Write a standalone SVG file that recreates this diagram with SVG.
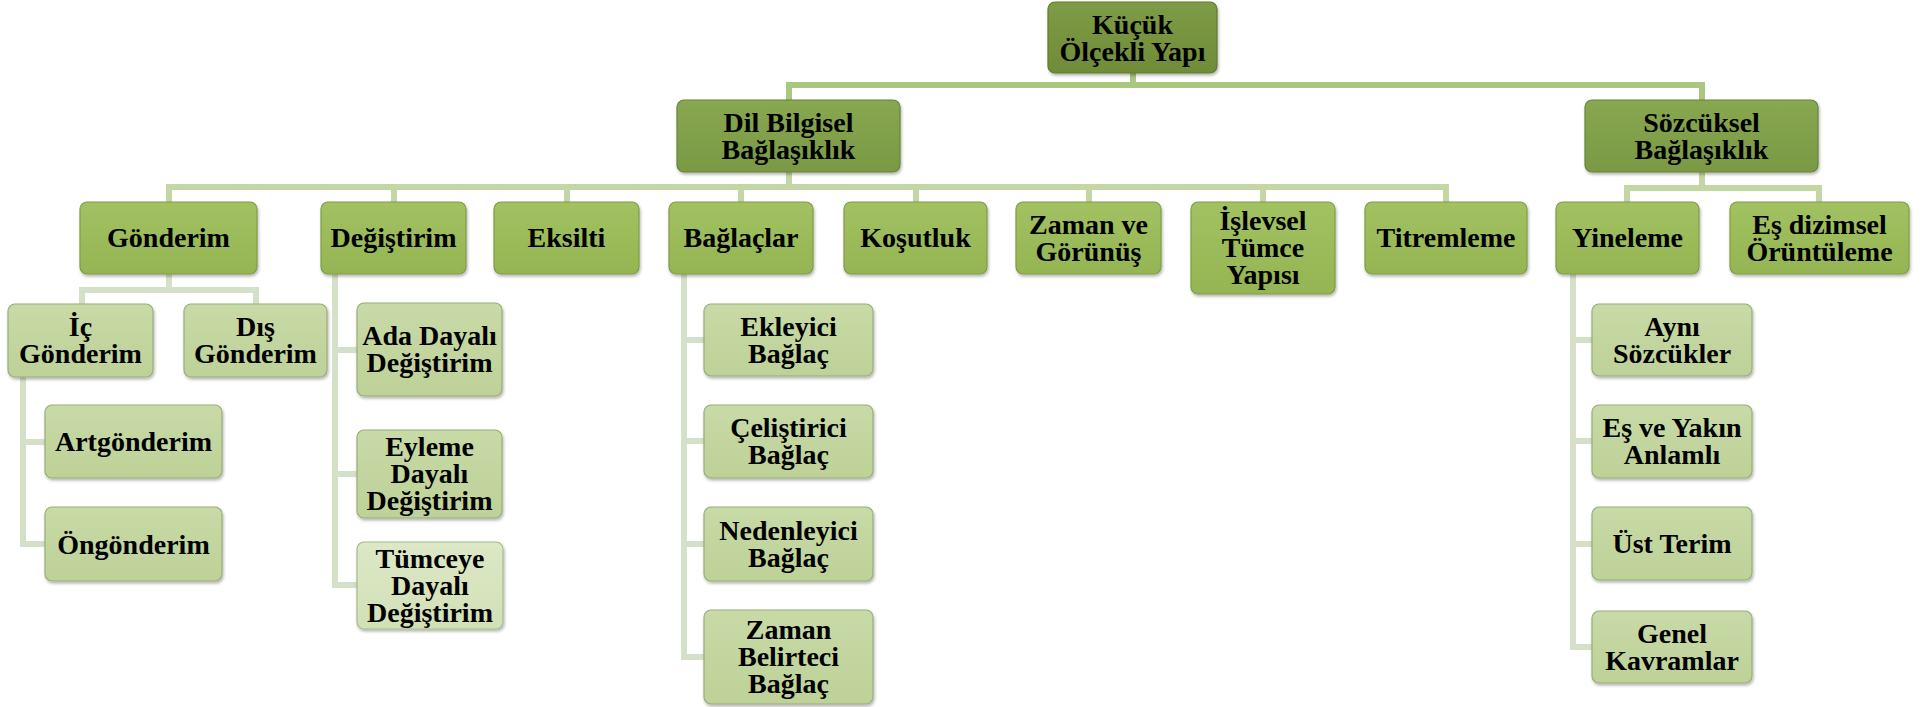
<svg xmlns="http://www.w3.org/2000/svg" width="1923" height="707" viewBox="0 0 1923 707">
<defs>
<linearGradient id="g0" x1="0" y1="0" x2="0" y2="1"><stop offset="0" stop-color="#7E9B46"/><stop offset="1" stop-color="#708C38"/></linearGradient>
<linearGradient id="g1" x1="0" y1="0" x2="0" y2="1"><stop offset="0" stop-color="#88A751"/><stop offset="1" stop-color="#7A9943"/></linearGradient>
<linearGradient id="g2" x1="0" y1="0" x2="0" y2="1"><stop offset="0" stop-color="#A2C162"/><stop offset="1" stop-color="#95B553"/></linearGradient>
<linearGradient id="g3" x1="0" y1="0" x2="0" y2="1"><stop offset="0" stop-color="#C8DAA6"/><stop offset="1" stop-color="#BDD198"/></linearGradient>
<linearGradient id="g4" x1="0" y1="0" x2="0" y2="1"><stop offset="0" stop-color="#DCE8C6"/><stop offset="1" stop-color="#D2E0B6"/></linearGradient>
<filter id="sh" x="-10%" y="-10%" width="120%" height="130%"><feDropShadow dx="1" dy="2" stdDeviation="1.5" flood-color="#000" flood-opacity="0.3"/></filter>
</defs>
<style>
rect{filter:url(#sh);stroke-width:1.2}
.l0{fill:url(#g0);stroke:#5F7A2E}
.l1{fill:url(#g1);stroke:#67853A}
.l2{fill:url(#g2);stroke:#7F9D47}
.l3{fill:url(#g3);stroke:#98AD78}
.l4{fill:url(#g4);stroke:#A6B98A}
.c0{stroke:#A9C77E;stroke-width:6;fill:none}
.c1{stroke:#C3D6A3;stroke-width:6;fill:none}
.c2{stroke:#D5E0C8;stroke-width:6;fill:none}
</style>
<g id="connectors">
<path class="c0" d="M1133 73V85M789 100V85H1702V100"/>
<path class="c1" d="M789 172V187M169 202V187H1446V202M394 187V202M567 187V202M741 187V202M916 187V202M1089 187V202M1263 187V202"/>
<path class="c1" d="M1702 172V188M1627 202V188H1819V202"/>
<path class="c2" d="M169 274V290M82 304V290H256V304"/>
<path class="c2" d="M23 377V544H45M23 442H45"/>
<path class="c2" d="M335 274V585H357M335 350H357M335 474H357"/>
<path class="c2" d="M684 274V657H704M684 340H704M684 441H704M684 544H704"/>
<path class="c2" d="M1573 274V647H1592M1573 340H1592M1573 441H1592M1573 544H1592"/>
</g>
<g font-family="Liberation Serif, Times New Roman, serif" font-weight="bold" font-size="28" fill="#000" text-anchor="middle">
<g id="n-kucuk"><rect class="l0" x="1048" y="2" width="169" height="71" rx="7"/><text x="1132.5" y="34">Küçük</text><text x="1132.5" y="61">Ölçekli Yapı</text></g>
<g id="n-dil"><rect class="l1" x="677" y="100" width="223" height="72" rx="7"/><text x="788.5" y="132">Dil Bilgisel</text><text x="788.5" y="159">Bağlaşıklık</text></g>
<g id="n-sozcuksel"><rect class="l1" x="1585" y="100" width="233" height="72" rx="7"/><text x="1701.5" y="132">Sözcüksel</text><text x="1701.5" y="159">Bağlaşıklık</text></g>
<g id="n-gonderim"><rect class="l2" x="80" y="202" width="177" height="72" rx="7"/><text x="168.5" y="247">Gönderim</text></g>
<g id="n-degistirim"><rect class="l2" x="321" y="202" width="145" height="72" rx="7"/><text x="393.5" y="247">Değiştirim</text></g>
<g id="n-eksilti"><rect class="l2" x="494" y="202" width="145" height="72" rx="7"/><text x="566.5" y="247">Eksilti</text></g>
<g id="n-baglaclar"><rect class="l2" x="669" y="202" width="144" height="72" rx="7"/><text x="741" y="247">Bağlaçlar</text></g>
<g id="n-kosutluk"><rect class="l2" x="844" y="202" width="143" height="72" rx="7"/><text x="915.5" y="247">Koşutluk</text></g>
<g id="n-zaman"><rect class="l2" x="1016" y="202" width="145" height="72" rx="7"/><text x="1088.5" y="234">Zaman ve</text><text x="1088.5" y="261">Görünüş</text></g>
<g id="n-islevsel"><rect class="l2" x="1191" y="202" width="144" height="92" rx="7"/><text x="1263" y="230">İşlevsel</text><text x="1263" y="257">Tümce</text><text x="1263" y="284">Yapısı</text></g>
<g id="n-titremleme"><rect class="l2" x="1365" y="202" width="162" height="72" rx="7"/><text x="1446" y="247">Titremleme</text></g>
<g id="n-yineleme"><rect class="l2" x="1556" y="202" width="143" height="72" rx="7"/><text x="1627.5" y="247">Yineleme</text></g>
<g id="n-esdizimsel"><rect class="l2" x="1730" y="202" width="179" height="72" rx="7"/><text x="1819.5" y="234">Eş dizimsel</text><text x="1819.5" y="261">Örüntüleme</text></g>
<g id="n-ic"><rect class="l3" x="8" y="304" width="145" height="73" rx="7"/><text x="80.5" y="336">İç</text><text x="80.5" y="363">Gönderim</text></g>
<g id="n-dis"><rect class="l3" x="184" y="304" width="143" height="73" rx="7"/><text x="255.5" y="336">Dış</text><text x="255.5" y="363">Gönderim</text></g>
<g id="n-artgonderim"><rect class="l3" x="45" y="405" width="177" height="73" rx="7"/><text x="133.5" y="451">Artgönderim</text></g>
<g id="n-ongonderim"><rect class="l3" x="45" y="507" width="177" height="74" rx="7"/><text x="133.5" y="554">Öngönderim</text></g>
<g id="n-ada"><rect class="l3" x="357" y="303" width="145" height="93" rx="7"/><text x="429.5" y="345">Ada Dayalı</text><text x="429.5" y="372">Değiştirim</text></g>
<g id="n-eyleme"><rect class="l3" x="357" y="430" width="145" height="88" rx="7"/><text x="429.5" y="456">Eyleme</text><text x="429.5" y="483">Dayalı</text><text x="429.5" y="510">Değiştirim</text></g>
<g id="n-tumceye"><rect class="l4" x="357" y="542" width="146" height="87" rx="7"/><text x="430" y="568">Tümceye</text><text x="430" y="595">Dayalı</text><text x="430" y="622">Değiştirim</text></g>
<g id="n-ekleyici"><rect class="l3" x="704" y="304" width="169" height="72" rx="7"/><text x="788.5" y="336">Ekleyici</text><text x="788.5" y="363">Bağlaç</text></g>
<g id="n-celistirici"><rect class="l3" x="704" y="405" width="169" height="73" rx="7"/><text x="788.5" y="437">Çeliştirici</text><text x="788.5" y="464">Bağlaç</text></g>
<g id="n-nedenleyici"><rect class="l3" x="704" y="507" width="169" height="74" rx="7"/><text x="788.5" y="540">Nedenleyici</text><text x="788.5" y="567">Bağlaç</text></g>
<g id="n-zamanbelirteci"><rect class="l3" x="704" y="610" width="169" height="94" rx="7"/><text x="788.5" y="639">Zaman</text><text x="788.5" y="666">Belirteci</text><text x="788.5" y="693">Bağlaç</text></g>
<g id="n-ayni"><rect class="l3" x="1592" y="304" width="160" height="72" rx="7"/><text x="1672" y="336">Aynı</text><text x="1672" y="363">Sözcükler</text></g>
<g id="n-esyakin"><rect class="l3" x="1592" y="405" width="160" height="73" rx="7"/><text x="1672" y="437">Eş ve Yakın</text><text x="1672" y="464">Anlamlı</text></g>
<g id="n-ustterim"><rect class="l3" x="1592" y="507" width="160" height="73" rx="7"/><text x="1672" y="553">Üst Terim</text></g>
<g id="n-genel"><rect class="l3" x="1592" y="611" width="160" height="72" rx="7"/><text x="1672" y="643">Genel</text><text x="1672" y="670">Kavramlar</text></g>
</g>
</svg>
